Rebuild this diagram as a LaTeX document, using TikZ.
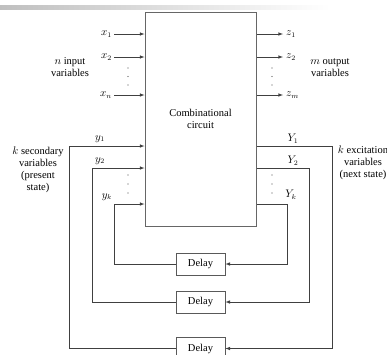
\documentclass[tikz,border=0pt]{standalone}
\usepackage{fontspec}
\setmainfont{Liberation Serif}
\usetikzlibrary{arrows, positioning, calc}
\tikzset{
  wire/.style={draw=black!75, line width=0.6pt},
  lbl/.style={font=\fontsize{10.5}{12}\selectfont, align=center, inner sep=1pt},
  delaybox/.style={draw=black!65, line width=0.8pt, minimum width=49pt, minimum height=22pt, lbl},
}

\begin{document}
\begin{tikzpicture}[x=1pt, y=-1pt]
    \clip (0,0) rectangle (387,354);
    \useasboundingbox (0,0) rectangle (387,354);
    \shade[left color=black!25, right color=white] (0,5) rectangle (330,9);

    \node[draw=black!60, line width=1pt, minimum width=111pt, minimum height=214pt, lbl] (cc) at (200.5,119) {Combinational\\circuit};

    % inputs and outputs
    \node[lbl, anchor=east] (x1) at (113,34) {$x_1$};
    \node[lbl, anchor=east] (x2) at (113,57) {$x_2$};
    \node[lbl, anchor=east] (xn) at (113,95) {$x_n$};
    \node[lbl, anchor=west] (z1) at (285,34) {$z_1$};
    \node[lbl, anchor=west] (z2) at (285,57) {$z_2$};
    \node[lbl, anchor=west] (zm) at (285,95) {$z_m$};
    \foreach \v in {x1,x2,xn}
      \draw[wire,-latex] (\v.east) ++(1,0) -- (\v -| cc.west);
    \foreach \v in {z1,z2,zm}
      \draw[wire,-latex] (\v -| cc.east) -- ($(\v.west)+(-2,0)$);
    \foreach \y in {68,76.5,85} {
      \fill[black!70] (128,\y) circle (0.7);
      \fill[black!70] (272,\y) circle (0.7);
    }
    \node[lbl] (inlbl) at (70,67.5) {$n$ input\\variables};
    \node[lbl] (outlbl) at (330,67.5) {$m$ output\\variables};

    % state variables
    \node[lbl] (stlbl) at (38,169.5) {$k$ secondary\\variables\\(present\\state)};
    \node[lbl] (nxlbl) at (363,163) {$k$ excitation\\variables\\(next state)};

    \coordinate (l1) at (69,146);
    \coordinate (l2) at (92,168);
    \coordinate (lk) at (114,204);
    \coordinate (r1) at (332,146);
    \coordinate (r2) at (309,168);
    \coordinate (rk) at (287,204);

    \node[delaybox] (dk) at (200.5,264) {Delay};
    \node[delaybox] (d2) at (200.5,302) {Delay};
    \node[delaybox] (d1) at (200.5,348.5) {Delay};

    \draw[wire,-latex] (cc.east |- r1) -- (r1) |- (d1.east);
    \draw[wire,-latex] (d1.west) -| (l1) -- (l1 -| cc.west);
    \draw[wire,-latex] (cc.east |- r2) -- (r2) |- (d2.east);
    \draw[wire,-latex] (d2.west) -| (l2) -- (l2 -| cc.west);
    \draw[wire,-latex] (cc.east |- rk) -- (rk) |- (dk.east);
    \draw[wire,-latex] (dk.west) -| (lk) -- (lk -| cc.west);

    \node[lbl] (y1) at (100,139) {$y_1$};
    \node[lbl] (y2) at (100,161) {$y_2$};
    \node[lbl] (yk) at (107,197) {$y_k$};
    \node[lbl] (Y1) at (293,139) {$Y_1$};
    \node[lbl] (Y2) at (293,161) {$Y_2$};
    \node[lbl] (Yk) at (291,195) {$Y_k$};
    \foreach \y in {175,184,193} {
      \fill[black!70] (128,\y) circle (0.7);
      \fill[black!70] (272,\y) circle (0.7);
    }
  \end{tikzpicture}
\end{document}
